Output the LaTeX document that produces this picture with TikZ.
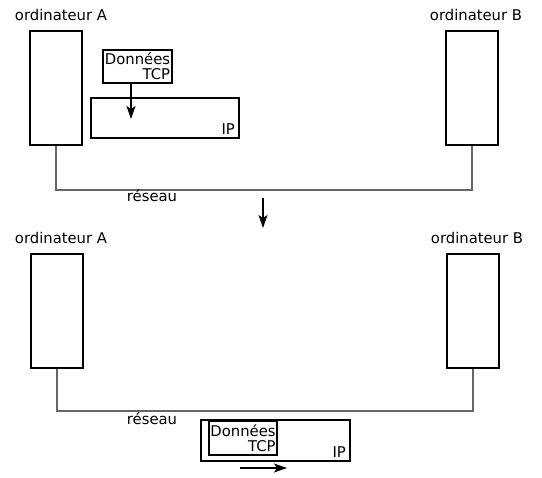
\documentclass[tikz,border=0pt]{standalone}
\usepackage{fontspec}
\setmainfont{DejaVu Sans}
\usetikzlibrary{arrows.meta}

\begin{document}
\begin{tikzpicture}[x=1pt, y=-1pt, font=\fontsize{14.8}{15}\selectfont,
  machine/.style={draw, line width=2pt, minimum width=52pt, minimum height=114pt, inner sep=0pt},
  paquet/.style={draw, line width=2pt, inner sep=0pt},
  reseau/.style={draw=black!60, line width=1.4pt},
  fleche/.style={-{Stealth[length=13pt, width=9pt, inset=3pt]}, line width=1.1pt}]

\useasboundingbox (0,0) rectangle (542,478);

% Before: TCP segment put into the IP packet
\node (labA1) at (61,15) {ordinateur A};
\node (labB1) at (476,15) {ordinateur B};
\node[machine] (A1) at (56,88) {};
\node[machine] (B1) at (472,88) {};
\node[paquet, minimum width=148pt, minimum height=40pt] (ip1) at (165,118) {};
\node[anchor=south east, inner sep=0pt] (iptxt1) at ([shift={(-5,-4)}]ip1.south east) {IP};
\node[paquet, minimum width=69pt, minimum height=33pt, align=right, inner sep=1.5pt] (tcp1) at (137.5,66.5) {Données\\TCP};
\coordinate (in1) at (131,119);
\draw[fleche] (tcp1.south -| in1) -- (in1);
\draw[reseau] (A1.south) -- ++(0,44) -| (B1.south);
\node (res1) at (152,196) {réseau};

% Step arrow
\coordinate (s1) at (263,198);
\coordinate (s2) at (263,228);
\draw[fleche] (s1) -- (s2);

% After: IP packet sent over the network
\node (labA2) at (61,238) {ordinateur A};
\node (labB2) at (477,238) {ordinateur B};
\node[machine] (A2) at (57,311) {};
\node[machine] (B2) at (473,311) {};
\draw[reseau] (A2.south) -- ++(0,42) -| (B2.south);
\node (res2) at (152,419) {réseau};
\node[paquet, minimum width=149pt, minimum height=41pt] (ip2) at (275.5,440.5) {};
\node[anchor=south east, inner sep=0pt] (iptxt2) at ([shift={(-5,-4)}]ip2.south east) {IP};
\node[paquet, minimum width=68pt, minimum height=34pt, align=right, inner sep=1.5pt] (tcp2) at (243,438) {Données\\TCP};
\coordinate (m1) at (240,468);
\coordinate (m2) at (287,468);
\draw[fleche] (m1) -- (m2);

\end{tikzpicture}
\end{document}
